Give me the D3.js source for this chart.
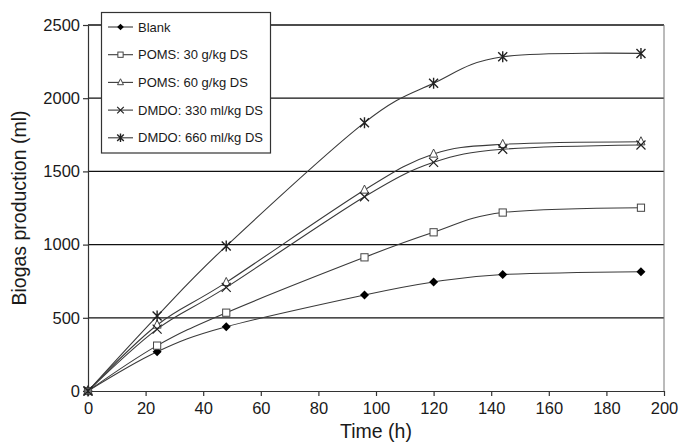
<!DOCTYPE html>
<html>
<head>
<meta charset="utf-8">
<script src="https://cdn.jsdelivr.net/npm/d3@7"></script>
<style>
  body { margin: 0; background: #fff; }
  svg text { font-family: "Liberation Sans", Arial, sans-serif; fill: #1a1a1a; }
</style>
</head>
<body>
<svg id="chart" width="683" height="444"></svg>
<script>
// sampling times (h)
var hours = [0, 24, 48, 96, 120, 144, 192];

// cumulative biogas (ml)
var blank = [0, 268, 439, 656, 745, 796, 815];
var poms30 = [0, 310, 535, 913, 1084, 1219, 1252];
var poms60 = [0, 451, 742, 1373, 1619, 1685, 1703];
var dmdo330 = [0, 423, 708, 1327, 1562, 1651, 1680];
var dmdo660 = [0, 512, 990, 1833, 2102, 2283, 2306];

var seriesNames = ['Blank', 'POMS: 30 g/kg DS', 'POMS: 60 g/kg DS', 'DMDO: 330 ml/kg DS', 'DMDO: 660 ml/kg DS'];
var markerKinds = ['diamond', 'square', 'triangle', 'cross', 'star'];

var xTicks = [0, 20, 40, 60, 80, 100, 120, 140, 160, 180, 200];
var yTicks = [0, 500, 1000, 1500, 2000, 2500];

var svg = d3.select('#chart');
var x = d3.scaleLinear().domain([0, 200]).range([88, 664]);
var y = d3.scaleLinear().domain([0, 2500]).range([391, 25]);

var series = [blank, poms30, poms60, dmdo330, dmdo660].map(function (vals, i) {
  return {
    name: seriesNames[i],
    kind: markerKinds[i],
    points: vals.map(function (v, j) { return { t: hours[j], v: v }; })
  };
});

// gridlines
svg.append('g').selectAll('line')
  .data(yTicks.filter(function (d) { return d > 0; }))
  .enter().append('line')
  .attr('x1', x(0)).attr('x2', x(200))
  .attr('y1', function (d) { return y(d); })
  .attr('y2', function (d) { return y(d); })
  .attr('stroke', '#111').attr('stroke-width', 1.3);

// right border
svg.append('line')
  .attr('x1', x(200)).attr('x2', x(200))
  .attr('y1', y(2500)).attr('y2', y(0))
  .attr('stroke', '#777').attr('stroke-width', 1);

// axes
var xAxis = d3.axisBottom(x).tickValues(xTicks).tickSize(5).tickSizeOuter(0).tickFormat(d3.format('d'));
var yAxis = d3.axisLeft(y).tickValues(yTicks).tickSize(5).tickSizeOuter(0).tickFormat(d3.format('d'));

var gx = svg.append('g').attr('transform', 'translate(0,' + y(0) + ')').call(xAxis);
var gy = svg.append('g').attr('transform', 'translate(' + x(0) + ',0)').call(yAxis);

[gx, gy].forEach(function (g) {
  g.select('.domain').attr('stroke', '#333').attr('stroke-width', 1.2);
  g.selectAll('.tick line').attr('stroke', '#333').attr('stroke-width', 1.2);
  g.selectAll('.tick text')
    .attr('font-size', '16.5px')
    .attr('font-family', '"Liberation Sans", Arial, sans-serif')
    .attr('fill', '#1a1a1a');
});
gx.selectAll('.tick text').attr('dy', '0.71em').attr('y', 11);
gy.selectAll('.tick text').attr('x', -8);

// axis titles
svg.append('text')
  .attr('x', x(100)).attr('y', 438)
  .attr('text-anchor', 'middle')
  .attr('font-size', '19.5px')
  .text('Time (h)');

svg.append('text')
  .attr('transform', 'translate(26,' + y(1250) + ') rotate(-90)')
  .attr('text-anchor', 'middle')
  .attr('font-size', '19.5px')
  .text('Biogas production (ml)');

// lines
var line = d3.line()
  .x(function (d) { return x(d.t); })
  .y(function (d) { return y(d.v); })
  .curve(d3.curveCardinal);

svg.append('g').selectAll('path')
  .data(series)
  .enter().append('path')
  .attr('d', function (d) { return line(d.points); })
  .attr('fill', 'none')
  .attr('stroke', '#3a3a3a')
  .attr('stroke-width', 1.1);

function drawMarker(g, kind, cx, cy, s) {
  if (kind === 'diamond') {
    g.append('path')
      .attr('d', 'M' + cx + ',' + (cy - s) + 'L' + (cx + s) + ',' + cy + 'L' + cx + ',' + (cy + s) + 'L' + (cx - s) + ',' + cy + 'Z')
      .attr('fill', '#000');
  } else if (kind === 'square') {
    var h = s * 0.8;
    g.append('rect')
      .attr('x', cx - h).attr('y', cy - h).attr('width', 2 * h).attr('height', 2 * h)
      .attr('fill', '#fff').attr('stroke', '#444').attr('stroke-width', 1);
  } else if (kind === 'triangle') {
    g.append('path')
      .attr('d', 'M' + cx + ',' + (cy - s * 1.1) + 'L' + (cx + s * 0.9) + ',' + (cy + s * 0.7) + 'L' + (cx - s * 0.9) + ',' + (cy + s * 0.7) + 'Z')
      .attr('fill', '#fff').attr('stroke', '#444').attr('stroke-width', 1);
  } else {
    var r = s;
    var p = 'M' + (cx - r) + ',' + (cy - r) + 'L' + (cx + r) + ',' + (cy + r) +
      'M' + (cx + r) + ',' + (cy - r) + 'L' + (cx - r) + ',' + (cy + r);
    if (kind === 'star') {
      p += 'M' + cx + ',' + (cy - r - 1) + 'L' + cx + ',' + (cy + r + 1);
    }
    g.append('path').attr('d', p).attr('fill', 'none')
      .attr('stroke', '#222').attr('stroke-width', kind === 'star' ? 1.4 : 1.2);
  }
}

// markers
var gm = svg.append('g');
series.forEach(function (s) {
  s.points.forEach(function (p) {
    drawMarker(gm, s.kind, x(p.t), y(p.v), 4.5);
  });
});

// legend
var legend = svg.append('g');
legend.append('rect')
  .attr('x', 101.5).attr('y', 12.5).attr('width', 169).attr('height', 140.5)
  .attr('fill', '#fff').attr('stroke', '#333').attr('stroke-width', 1.2);

series.forEach(function (s, i) {
  var ly = 27 + i * 27.7;
  legend.append('line')
    .attr('x1', 108).attr('x2', 133).attr('y1', ly).attr('y2', ly)
    .attr('stroke', '#3a3a3a').attr('stroke-width', 1.1);
  drawMarker(legend, s.kind, 120.5, ly, 3.3);
  legend.append('text')
    .attr('x', 138).attr('y', ly).attr('dy', '0.35em')
    .attr('font-size', '13px')
    .text(s.name);
});
</script>
</body>
</html>
